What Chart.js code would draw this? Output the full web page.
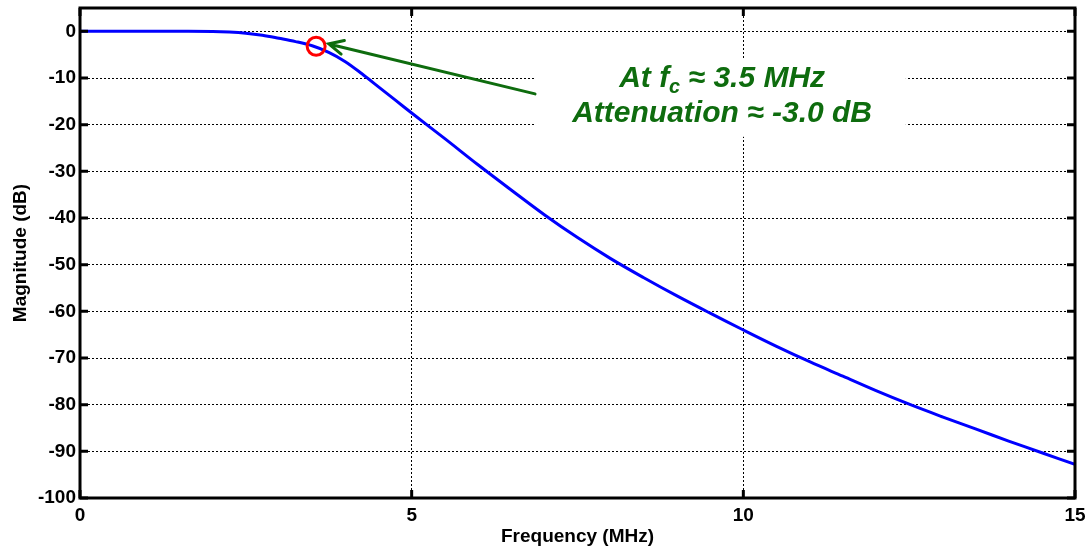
<!DOCTYPE html>
<html>
<head>
<meta charset="utf-8">
<script src="https://cdn.jsdelivr.net/npm/chart.js@4.4.0/dist/chart.umd.min.js"></script>
<style>
  html, body { margin: 0; padding: 0; background: #fff; }
</style>
</head>
<body>
<canvas id="chart-response" width="1090" height="548"></canvas>
<script>
/* ── data ───────────────────────────────────────────────── */
const FREQ_MHZ = [0, 0.5, 1, 1.5, 2, 2.25, 2.5, 2.75, 3, 3.25, 3.5, 3.75, 4, 4.25, 4.5, 4.75,
                  5, 5.5, 6, 6.5, 7, 7.5, 8, 8.5, 9, 9.5, 10, 10.5, 11, 11.5, 12, 12.5,
                  13, 13.5, 14, 14.5, 15];
const MAG_DB   = [0, 0, 0, 0, -0.03, -0.15, -0.4, -0.85, -1.5, -2.2, -3.1, -4.5, -6.5, -9.1, -11.9, -14.7,
                  -17.5, -23.0, -28.6, -34.0, -39.3, -44.2, -48.7, -52.8, -56.7, -60.4, -64.0, -67.5, -70.8, -73.9, -77.0, -79.9,
                  -82.6, -85.2, -87.8, -90.3, -92.8];
const CUTOFF   = [3.56, -3.2];          // circled point (MHz, dB)
const X_TICKS  = [0, 5, 10, 15];
const Y_TICKS  = [-100, -90, -80, -70, -60, -50, -40, -30, -20, -10, 0];
const NOTE_LINES = ['At f', 'c', ' \u2248 3.5 MHz', 'Attenuation \u2248 -3.0 dB'];
const ARROW_FROM = [6.86, -13.4];
const ARROW_TO   = [3.75, -2.7];

const FONT  = '"Liberation Sans", Arial, sans-serif';
const GREEN = 'rgb(14,108,14)';

/* ── annotation + MATLAB-like frame ──────────────────────── */
const noteBox = {
  id: 'noteBox',
  beforeDatasetsDraw(chart) {
    // the note sits on a white box that hides the grid behind it
    const { ctx, scales: { x, y } } = chart;
    const l = x.getPixelForValue(6.87), r = x.getPixelForValue(12.45);
    const t = y.getPixelForValue(-5.9),  b = y.getPixelForValue(-22.6);
    ctx.save();
    ctx.fillStyle = '#fff';
    ctx.fillRect(l, t, r - l, b - t);
    ctx.restore();
  },
  afterDatasetsDraw(chart) {
    const { ctx, scales: { x, y } } = chart;
    ctx.save();

    // arrow
    const x0 = x.getPixelForValue(ARROW_FROM[0]), y0 = y.getPixelForValue(ARROW_FROM[1]);
    const x1 = x.getPixelForValue(ARROW_TO[0]),   y1 = y.getPixelForValue(ARROW_TO[1]);
    const ang = Math.atan2(y1 - y0, x1 - x0);
    ctx.strokeStyle = GREEN;
    ctx.lineWidth = 3;
    ctx.lineCap = 'round';
    ctx.beginPath();
    ctx.moveTo(x0, y0); ctx.lineTo(x1, y1);
    ctx.moveTo(x1 - 16 * Math.cos(ang - 0.45), y1 - 16 * Math.sin(ang - 0.45));
    ctx.lineTo(x1, y1);
    ctx.lineTo(x1 - 16 * Math.cos(ang + 0.45), y1 - 16 * Math.sin(ang + 0.45));
    ctx.stroke();

    // text
    const cx = x.getPixelForValue(9.68);
    const big = `italic bold 30px ${FONT}`, small = `italic bold 20px ${FONT}`;
    ctx.fillStyle = GREEN;
    ctx.textBaseline = 'alphabetic';
    ctx.textAlign = 'left';
    ctx.font = big;
    const w1 = ctx.measureText(NOTE_LINES[0]).width;
    const w3 = ctx.measureText(NOTE_LINES[2]).width;
    ctx.font = small;
    const w2 = ctx.measureText(NOTE_LINES[1]).width;
    let px = cx - (w1 + w2 + w3) / 2;
    const base1 = y.getPixelForValue(-12.0);
    ctx.font = big;   ctx.fillText(NOTE_LINES[0], px, base1); px += w1;
    ctx.font = small; ctx.fillText(NOTE_LINES[1], px, base1 + 6); px += w2;
    ctx.font = big;   ctx.fillText(NOTE_LINES[2], px, base1);
    ctx.textAlign = 'center';
    ctx.fillText(NOTE_LINES[3], cx, y.getPixelForValue(-19.5));
    ctx.restore();
  },
  afterDraw(chart) {
    const { ctx, chartArea: a, scales: { x, y } } = chart;
    ctx.save();
    ctx.strokeStyle = '#000';
    ctx.lineWidth = 3;
    ctx.beginPath();
    y.ticks.forEach(t => {
      const py = y.getPixelForValue(t.value);
      ctx.moveTo(a.left, py);  ctx.lineTo(a.left + 8, py);
      ctx.moveTo(a.right, py); ctx.lineTo(a.right - 8, py);
    });
    x.ticks.forEach(t => {
      const px = x.getPixelForValue(t.value);
      ctx.moveTo(px, a.bottom); ctx.lineTo(px, a.bottom - 8);
      ctx.moveTo(px, a.top);    ctx.lineTo(px, a.top + 8);
    });
    ctx.stroke();
    ctx.strokeRect(a.left, a.top, a.right - a.left, a.bottom - a.top);
    ctx.restore();
  },
};

const tickFont  = { family: FONT, size: 19, weight: 'bold' };
const titleFont = { family: FONT, size: 19, weight: 'bold' };

new Chart(document.getElementById('chart-response'), {
  type: 'line',
  data: {
    datasets: [
      {
        label: 'cutoff',
        data: [{ x: CUTOFF[0], y: CUTOFF[1] }],
        showLine: false,
        pointRadius: 9,
        pointBorderWidth: 3,
        pointBorderColor: '#ff0000',
        pointBackgroundColor: 'rgba(0,0,0,0)',
        order: 0,
      },
      {
        label: 'Magnitude',
        data: FREQ_MHZ.map((f, i) => ({ x: f, y: MAG_DB[i] })),
        borderColor: '#0000ff',
        borderWidth: 3,
        pointRadius: 0,
        tension: 0.35,
        order: 1,
      },
    ],
  },
  options: {
    responsive: false,
    animation: false,
    events: [],
    layout: { autoPadding: false, padding: { top: 8, right: 15, left: 0, bottom: 0 } },
    plugins: { legend: { display: false }, tooltip: { enabled: false } },
    scales: {
      x: {
        type: 'linear',
        min: 0, max: 15,
        afterBuildTicks: s => { s.ticks = X_TICKS.map(v => ({ value: v })); },
        afterFit: s => { s.height = 50; s.paddingLeft = 0; s.paddingRight = 0; },
        ticks: { font: tickFont, color: '#000', padding: 6, maxRotation: 0 },
        grid: { color: '#000', lineWidth: 1, drawTicks: false },
        border: { display: false, dash: [2, 2] },
        title: { display: true, text: 'Frequency (MHz)', font: titleFont, color: '#000', padding: { top: 0, bottom: 0 } },
      },
      y: {
        type: 'linear',
        min: -100, max: 5,
        afterBuildTicks: s => { s.ticks = Y_TICKS.map(v => ({ value: v })); },
        afterFit: s => { s.width = 80; s.paddingTop = 0; s.paddingBottom = 0; },
        ticks: { font: tickFont, color: '#000', padding: 4 },
        grid: { color: '#000', lineWidth: 1, drawTicks: false },
        border: { display: false, dash: [2, 2] },
        title: { display: true, text: 'Magnitude (dB)', font: titleFont, color: '#000', padding: { top: 9, bottom: 0 } },
      },
    },
  },
  plugins: [noteBox],
});
</script>
</body>
</html>
